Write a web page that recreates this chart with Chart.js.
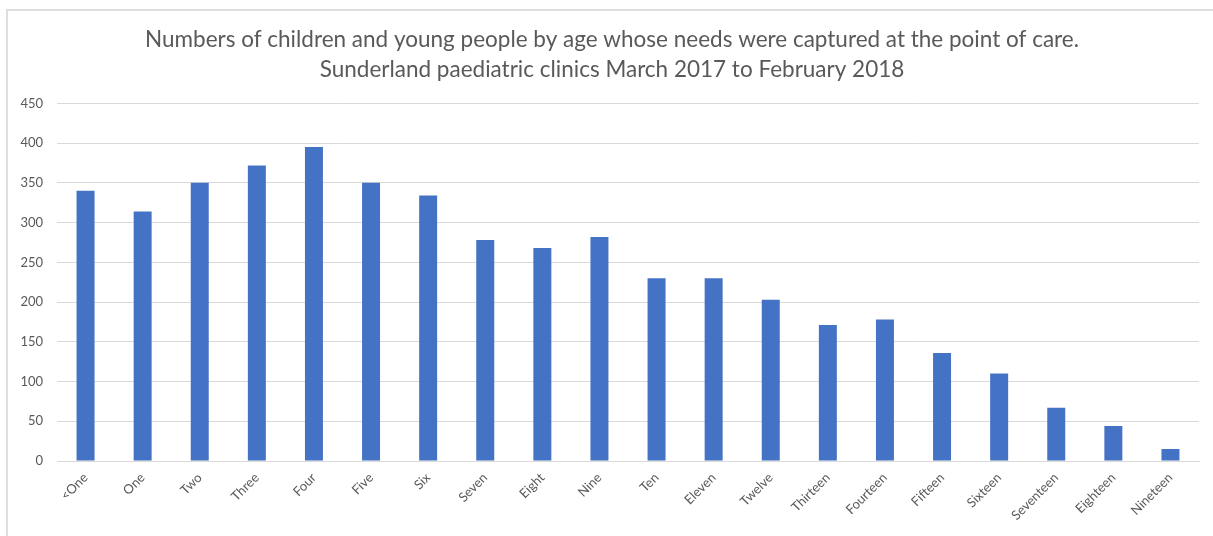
<!DOCTYPE html>
<html>
<head>
<meta charset="utf-8">
<title>Children and young people by age</title>
<script src="https://cdn.jsdelivr.net/npm/chart.js@4/dist/chart.umd.min.js"></script>
<style>
  html, body { margin: 0; padding: 0; background: #ffffff; }
  #wrap { width: 1213px; height: 536px; }
</style>
</head>
<body>
<div id="wrap"><canvas id="chart" width="1213" height="536"></canvas></div>
<script>
// Age groups seen at the clinics
const ageLabels = ['<One', 'One', 'Two', 'Three', 'Four', 'Five', 'Six', 'Seven', 'Eight', 'Nine',
  'Ten', 'Eleven', 'Twelve', 'Thirteen', 'Fourteen', 'Fifteen', 'Sixteen', 'Seventeen', 'Eighteen', 'Nineteen'];

// Number of children and young people per age group
const childCounts = [340, 314, 350, 372, 395, 350, 334, 278, 268, 282,
  230, 230, 203, 171, 178, 136, 110, 67, 44, 15];

// Value axis range
const yMin = 0;
const yMax = 450;
const yStep = 50;

const titleLines = [
  'Numbers of children and young people by age whose needs were captured at the point of care.',
  'Sunderland paediatric clinics March 2017 to February 2018'
];

const FONT = 'Lato, "Open Sans", "Liberation Sans", sans-serif';
const TEXT = '#595959';
const GRID = '#d9d9d9';

// Thin frame along the top and left edges of the chart box,
// and a title box that starts inside the frame so the title sits centred in it
const framePlugin = {
  id: 'frame',
  afterLayout(chart) {
    if (chart.titleBlock) {
      chart.titleBlock.left = 25;
    }
  },
  beforeDraw(chart) {
    const ctx = chart.ctx;
    ctx.save();
    ctx.fillStyle = '#ffffff';
    ctx.fillRect(0, 0, chart.width, chart.height);
    ctx.strokeStyle = '#dedede';
    ctx.lineWidth = 2;
    ctx.beginPath();
    ctx.moveTo(7, chart.height);
    ctx.lineTo(7, 10);
    ctx.lineTo(chart.width, 10);
    ctx.stroke();
    ctx.restore();
  }
};

new Chart(document.getElementById('chart'), {
  type: 'bar',
  data: {
    labels: ageLabels,
    datasets: [{
      label: 'Children and young people',
      data: childCounts,
      backgroundColor: '#4472C4',
      borderWidth: 0,
      barPercentage: 0.315,
      categoryPercentage: 1.0
    }]
  },
  options: {
    responsive: false,
    animation: false,
    devicePixelRatio: 1,
    layout: { padding: { left: 0, right: 14, top: 0, bottom: 0 } },
    plugins: {
      legend: { display: false },
      tooltip: { enabled: false },
      title: {
        display: true,
        text: titleLines,
        color: TEXT,
        font: { family: FONT, size: 22.5, weight: 'normal', lineHeight: 1.32 },
        padding: { top: 25, bottom: 19 }
      }
    },
    scales: {
      x: {
        grid: { display: false, drawTicks: false },
        border: { display: true, color: GRID, width: 1 },
        ticks: {
          color: TEXT,
          font: { family: FONT, size: 13 },
          minRotation: 45,
          maxRotation: 45,
          autoSkip: false,
          padding: 9
        },
        afterFit(scale) { scale.height = 75; }
      },
      y: {
        min: yMin,
        max: yMax,
        grid: { color: GRID, lineWidth: 1, drawTicks: false },
        border: { display: false },
        ticks: {
          stepSize: yStep,
          color: TEXT,
          font: { family: FONT, size: 13 },
          padding: 14
        },
        afterFit(scale) { scale.width = 57; }
      }
    }
  },
  plugins: [framePlugin]
});
</script>
</body>
</html>
